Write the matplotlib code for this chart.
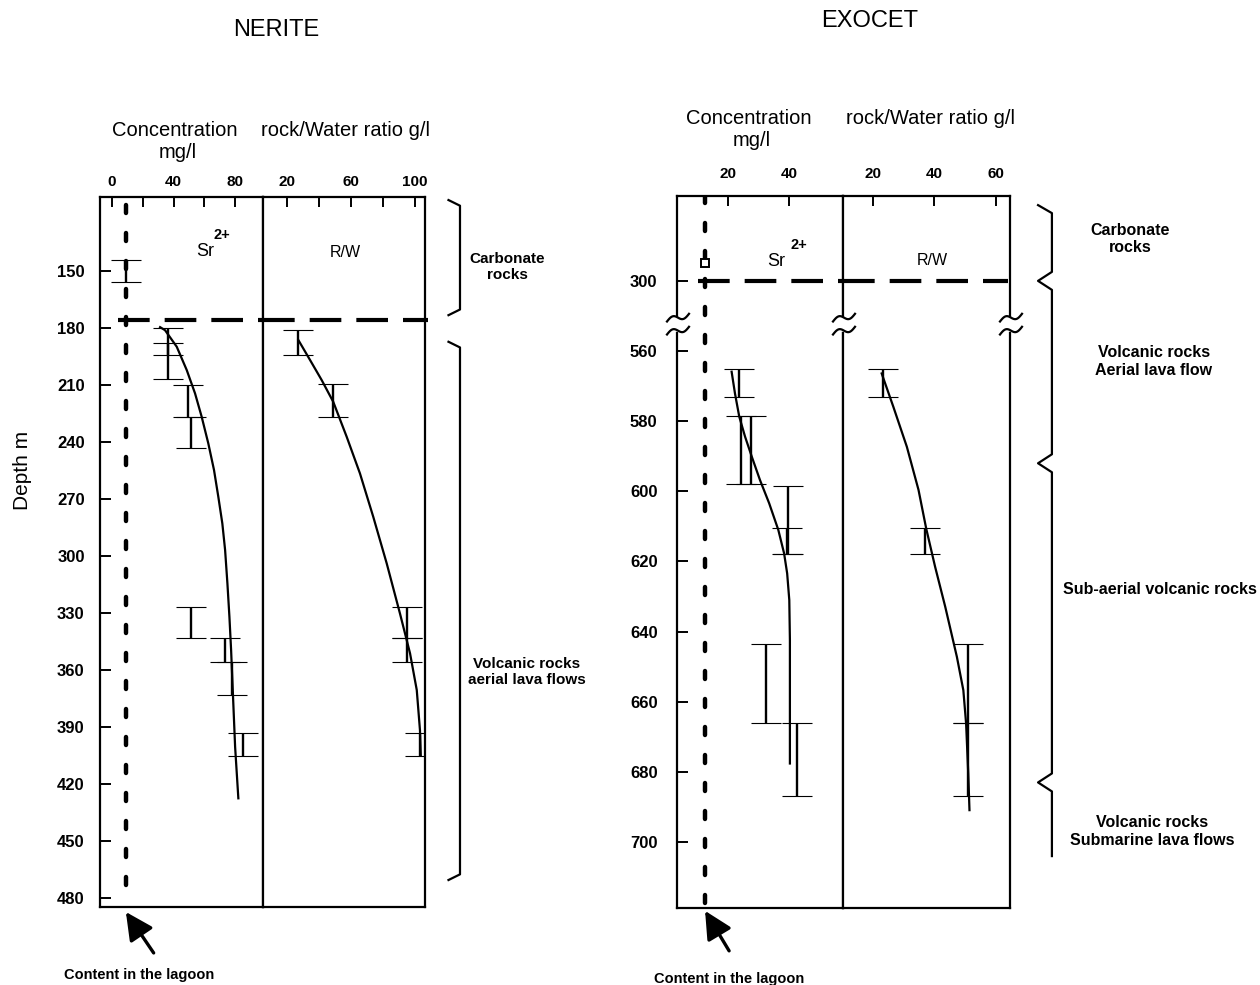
import numpy as np
import matplotlib.pyplot as plt
from matplotlib.lines import Line2D
from matplotlib.transforms import blended_transform_factory

plt.rcParams['font.family'] = ['Liberation Sans', 'DejaVu Sans']

W, H = 1260, 985

# ---- NERITE ----
ner_lagoon = 9.0
ner_contact = 176
ner_depth_ticks = [150, 180, 210, 240, 270, 300, 330, 360, 390, 420, 450, 480]

ner_sr = [9.0, 36.4, 36.4, 49.4, 51.3, 51.3, 73.4, 77.9, 85.0]
ner_sr_top = [144, 180, 188, 210, 227, 327, 343, 356, 393]
ner_sr_bot = [156, 194, 207, 227, 243, 343, 356, 373, 405]
ner_sr_fit_x = [31.2, 34.4, 42.0, 48.5, 53.9, 58.2, 62.5, 66.2, 69.0, 71.6,
                73.4, 74.9, 76.2, 77.3, 78.1, 79.9, 82.0]
ner_sr_fit_d = [179.5, 181.1, 189.8, 202.1, 214.4, 226.7, 240.7, 254.7, 268.8,
                282.8, 296.8, 314.4, 331.9, 349.5, 365.3, 400.4, 427.5]

ner_rw = [26.9, 48.8, 95.0, 95.0, 103.1]
ner_rw_top = [181, 209.5, 327, 343, 393]
ner_rw_bot = [194, 227, 343, 356, 405]
ner_rw_fit_x = [27.1, 34.4, 41.7, 48.9, 57.3, 65.6, 73.9, 82.3, 90.6, 96.9,
                101.1, 103.1, 103.6]
ner_rw_fit_d = [186.3, 196.8, 207.4, 218.8, 237.2, 256.5, 279.3, 303.8, 330.2,
                351.2, 370.5, 391.6, 404.7]

ner_units = ['Carbonate\nrocks', 'Volcanic rocks\naerial lava flows']
ner_unit_top = [112.6, 187.2]
ner_unit_bot = [173.2, 470.5]
ner_label_depth = [148, 361]

# ---- EXOCET ----
exo_lagoon = 12.5
exo_contact = 300
exo_depth_ticks = [300, 560, 580, 600, 620, 640, 660, 680, 700]
exo_carb_sr, exo_carb_depth = 12.5, 295

exo_sr = [23.6, 24.3, 27.5, 39.7, 39.3, 32.5, 42.6]
exo_sr_top = [565, 578.5, 578.5, 598.5, 610.5, 643.5, 666]
exo_sr_bot = [573, 598, 598, 618, 618, 666, 687]
exo_sr_fit_x = [21.2, 22.3, 23.7, 25.6, 27.8, 30.5, 33.5, 36.5, 38.4, 39.4,
                40.1, 40.3, 40.3, 40.3]
exo_sr_fit_d = [565.9, 572.1, 578.7, 584.4, 590.1, 596.8, 603.4, 611.0, 617.7,
                623.4, 631.0, 642.4, 656.7, 677.6]

exo_rw = [23.3, 36.9, 50.9, 50.9]
exo_rw_top = [565, 610.5, 643.5, 666]
exo_rw_bot = [573, 618, 666, 687]
exo_rw_fit_x = [22.8, 26.6, 31.0, 34.8, 37.3, 40.2, 43.5, 47.3, 49.4, 50.3,
                51.0, 51.4]
exo_rw_fit_d = [566.4, 575.9, 587.3, 599.6, 610.6, 621.5, 632.9, 647.2, 656.7,
                666.2, 680.4, 690.9]

exo_units = ['Carbonate\nrocks', 'Volcanic rocks\nAerial lava flow',
             'Sub-aerial volcanic rocks', 'Volcanic rocks\nSubmarine lava flows']
exo_bounds = [278.4, 300, 592, 683, 704]
exo_label_depth = [288, 563, 628, 697]

# depths between 300 and 560 m are squeezed into the axis break
brk_d = [0, 300, 560, 2000]
brk_p = [240, 540, 560, 2000]


def fwd(d):
    return np.interp(d, brk_d, brk_p)


def inv(p):
    return np.interp(p, brk_p, brk_d)


fig = plt.figure(figsize=(W / 100, H / 100), dpi=100)


def rect(x0, x1, y0, y1):
    return [x0 / W, 1 - y1 / H, (x1 - x0) / W, (y1 - y0) / H]


def ftext(x, y, s, **kw):
    fig.text(x / W, 1 - y / H, s, ha='center', va='center', **kw)


def style(ax, xlim, ylim, xticks, xlabels, xpad):
    ax.set_xlim(xlim)
    ax.set_ylim(ylim)
    ax.xaxis.tick_top()
    ax.set_xticks(xticks, xlabels, fontweight='bold', fontsize=11)
    ax.tick_params(axis='x', direction='in', length=7, width=1.4, pad=xpad)
    ax.tick_params(axis='y', direction='in', length=8, width=1.4)
    for sp in ax.spines.values():
        sp.set_linewidth(1.6)


def bars(ax, x, top, bot):
    top, bot = np.asarray(top, float), np.asarray(bot, float)
    ax.errorbar(x, (top + bot) / 2, yerr=(bot - top) / 2, fmt='none',
                ecolor='black', elinewidth=1.7, capsize=10.5, capthick=0.8)


def yfrac(ax, d):
    pt = ax.transData.transform((ax.get_xlim()[0], d))
    return ax.transAxes.inverted().transform(pt)[1]


lagoon_style = dict(color='black', lw=3.2, ls=(0, (1.8, 4.5)), dash_capstyle='round')
contact_style = dict(color='black', lw=3, ls=(0, (7.6, 3.6)))
arrow_style = dict(arrowstyle='-|>', color='black', lw=2.4,
                   mutation_scale=42, shrinkA=0, shrinkB=0)

# ================= NERITE =================
a1 = fig.add_axes(rect(100, 263, 197, 907))
a2 = fig.add_axes(rect(263, 425, 197, 907))
ylim_n = (484.7, 111)
style(a1, (-7.8, 98), ylim_n, [0, 20, 40, 60, 80], ['0', '', '40', '', '80'], 6)
style(a2, (5, 106.25), ylim_n, [20, 40, 60, 80, 100], ['20', '', '60', '', '100'], 6)
a1.set_yticks(ner_depth_ticks, [str(d) for d in ner_depth_ticks],
              fontweight='bold', fontsize=12)
a1.tick_params(axis='y', pad=11)
a2.tick_params(axis='y', left=False, labelleft=False)

a1.axvline(ner_lagoon, ymin=0.031, ymax=1, **lagoon_style)
a1.axhline(ner_contact, xmin=0.11, **contact_style)
a2.axhline(ner_contact, xmax=1.02, clip_on=False, **contact_style)

bars(a1, ner_sr, ner_sr_top, ner_sr_bot)
a1.plot(ner_sr_fit_x, ner_sr_fit_d, color='black', lw=1.6)
bars(a2, ner_rw, ner_rw_top, ner_rw_bot)
a2.plot(ner_rw_fit_x, ner_rw_fit_d, color='black', lw=1.6)

a1.text(0.644, 0.923, 'Sr', transform=a1.transAxes, fontsize=13, ha='center', va='center')
a1.text(0.745, 0.946, '2+', transform=a1.transAxes, fontsize=10.5, fontweight='bold',
        ha='center', va='center')
a2.text(0.506, 0.922, 'R/W', transform=a2.transAxes, fontsize=11.5, ha='center', va='center')

# lithology brackets
for top, bot in zip(ner_unit_top, ner_unit_bot):
    yt, yb = yfrac(a2, top), yfrac(a2, bot)
    a2.plot([1.145, 1.216, 1.216, 1.145], [yt, yt - 0.008, yb + 0.008, yb],
            transform=a2.transAxes, clip_on=False, color='black', lw=1.6)
tr = blended_transform_factory(a2.transAxes, a2.transData)
a2.text(1.506, ner_label_depth[0], ner_units[0], transform=tr, fontsize=11,
        fontweight='bold', ha='center', va='center')
a2.text(1.63, ner_label_depth[1], ner_units[1], transform=tr, fontsize=11,
        fontweight='bold', ha='center', va='center')

a1.annotate('', xy=(ner_lagoon, -0.007), xycoords=('data', 'axes fraction'),
            xytext=(20, -29.5), textcoords='offset points', arrowprops=arrow_style)

ftext(276, 30, 'NERITE', fontsize=17)
ftext(175, 130, 'Concentration', fontsize=14.5)
ftext(178, 153, 'mg/l', fontsize=14.5)
ftext(345, 130, 'rock/Water ratio g/l', fontsize=14.5)
ftext(139, 975, 'Content in the lagoon', fontsize=10.5, fontweight='bold')
fig.text(22 / W, 1 - 470 / H, 'Depth m', rotation=90, fontsize=15,
         ha='center', va='center')

# ================= EXOCET =================
b1 = fig.add_axes(rect(677, 843, 196, 908))
b2 = fig.add_axes(rect(843, 1010, 196, 908))
for ax in (b1, b2):
    ax.set_yscale('function', functions=(fwd, inv))
ylim_e = (718.8, 275.8)
style(b1, (3.3, 57.7), ylim_e, [20, 40], ['20', '40'], 11)
style(b2, (10.2, 64.6), ylim_e, [20, 40, 60], ['20', '40', '60'], 11)
b1.set_yticks(exo_depth_ticks, [str(d) for d in exo_depth_ticks],
              fontweight='bold', fontsize=12)
b1.yaxis.set_minor_locator(plt.NullLocator())
b2.yaxis.set_minor_locator(plt.NullLocator())
b1.tick_params(axis='y', pad=14)
b2.tick_params(axis='y', left=False, labelleft=False)

b1.axvline(exo_lagoon, ymin=0.007, ymax=1, **lagoon_style)
b1.plot(exo_carb_sr, exo_carb_depth, marker='s', ms=6, mfc='white', mec='black', mew=1.4)
b1.axhline(exo_contact, xmin=0.127, **contact_style)
b2.axhline(exo_contact, xmax=0.99, **contact_style)

bars(b1, exo_sr, exo_sr_top, exo_sr_bot)
b1.plot(exo_sr_fit_x, exo_sr_fit_d, color='black', lw=1.6)
bars(b2, exo_rw, exo_rw_top, exo_rw_bot)
b2.plot(exo_rw_fit_x, exo_rw_fit_d, color='black', lw=1.6)

b1.text(0.596, 0.908, 'Sr', transform=b1.transAxes, fontsize=13, ha='center', va='center')
b1.text(0.732, 0.931, '2+', transform=b1.transAxes, fontsize=10.5, fontweight='bold',
        ha='center', va='center')
b2.text(0.533, 0.909, 'R/W', transform=b2.transAxes, fontsize=11.5, ha='center', va='center')

# notched lithology brace
px = 1 / 712
ys = [yfrac(b2, exo_bounds[0]), yfrac(b2, exo_bounds[0]) - 8 * px]
xs = [1.168, 1.251]
for b in exo_bounds[1:-1]:
    yb = yfrac(b2, b)
    xs += [1.251, 1.168, 1.251]
    ys += [yb + 9 * px, yb, yb - 9 * px]
xs.append(1.251)
ys.append(yfrac(b2, exo_bounds[-1]))
b2.plot(xs, ys, transform=b2.transAxes, clip_on=False, color='black', lw=1.6)

tr = blended_transform_factory(b2.transAxes, b2.transData)
for s, d, x in zip(exo_units, exo_label_depth, [1.719, 1.86, 1.898, 1.85]):
    b2.text(x, d, s, transform=tr, fontsize=11.5, fontweight='bold',
            ha='center', va='center')

# axis break marks on the three vertical lines
t = np.linspace(-10, 12, 30)
wave = 0.35 * t + 3.2 * np.sin(2 * np.pi * (t + 10) / 22)
for xs_px in (677, 843, 1010):
    fig.add_artist(Line2D([xs_px / W] * 2, [1 - 320 / H, 1 - 329 / H],
                          color='white', lw=4, transform=fig.transFigure))
    for yc in (318, 331):
        fig.add_artist(Line2D((xs_px + t) / W, 1 - (yc - wave) / H,
                              color='black', lw=1.6, transform=fig.transFigure))

b1.annotate('', xy=(exo_lagoon, -0.004), xycoords=('data', 'axes fraction'),
            xytext=(17.3, -28.8), textcoords='offset points', arrowprops=arrow_style)

ftext(870, 21, 'EXOCET', fontsize=17)
ftext(749, 118, 'Concentration', fontsize=14.5)
ftext(752, 141, 'mg/l', fontsize=14.5)
ftext(930, 118, 'rock/Water ratio g/l', fontsize=14.5)
ftext(729, 979, 'Content in the lagoon', fontsize=10.5, fontweight='bold')

fig.savefig('out.png', dpi=100)
